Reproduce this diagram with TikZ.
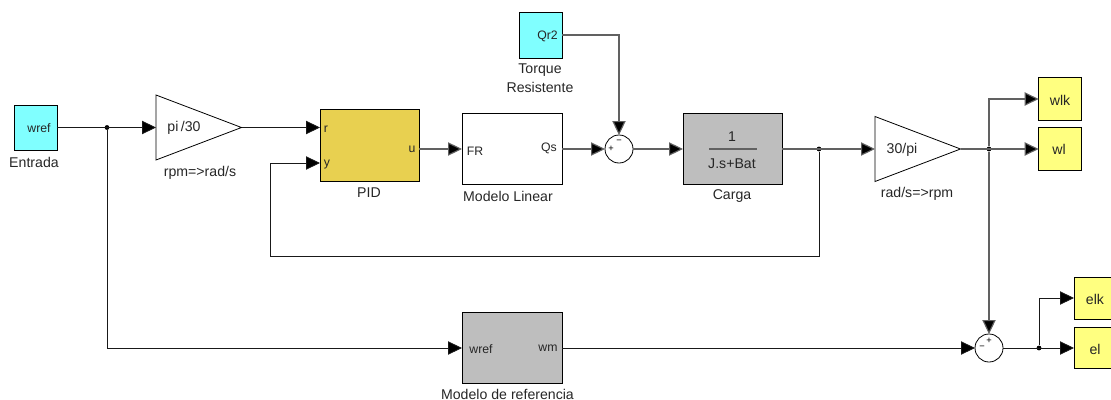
\documentclass[tikz,border=0pt]{standalone}
\usepackage{fontspec}
\setmainfont{Liberation Sans}
\usetikzlibrary{arrows.meta,shapes.geometric}
\definecolor{cyanblk}{HTML}{80FFFF}
\definecolor{yelblk}{HTML}{FFFF80}
\definecolor{goldblk}{HTML}{E8D050}
\definecolor{greyblk}{HTML}{BEBEBE}
\tikzset{
  x=0.75pt,y=-0.75pt,
  blk/.style={draw=black,line width=0.6pt,inner sep=0,outer sep=0},
  txt/.style={inner sep=0,outer sep=0,font=\fontsize{9.2pt}{14.25pt}\selectfont,text=black!85,align=center},
  lab/.style={inner sep=0,outer sep=0,font=\fontsize{10.6pt}{14.25pt}\selectfont,text=black!85,align=center},
  small/.style={inner sep=0,outer sep=0,font=\fontsize{7pt}{8pt}\selectfont},
  tri/.style={draw=black,line width=0.6pt,shape=isosceles triangle,isosceles triangle stretches,inner sep=0,outer sep=0,minimum width=65*0.75pt,minimum height=85.5*0.75pt,anchor=lower side},
  sumb/.style={draw=black,line width=0.6pt,circle,fill=white,inner sep=0,outer sep=0,minimum size=21pt},
  wire/.style={line width=0.6pt,draw=black!90},
  gwire/.style={line width=0.85pt,draw=black!62},
  head/.style={-{Triangle[length=10.5pt,width=10pt,fill=black]}},
  dot/.style={circle,fill=black,inner sep=0,minimum size=3.6pt},
}
\begin{document}
\begin{tikzpicture}
\clip (0,0) rectangle (1111,400);
\useasboundingbox (0,0) rectangle (1111,400);
% blocks
\node[blk,fill=cyanblk,minimum width=32.25pt,minimum height=33.75pt] (entrada) at (35.5,127.5) {};
\node[blk,fill=cyanblk,minimum width=32.25pt,minimum height=34.5pt] (qr) at (540.5,35) {};
\node[tri] (g1) at (156,127.5) {};
\node[blk,fill=goldblk,minimum width=74.25pt,minimum height=54pt] (pid) at (369.5,145) {};
\node[blk,fill=white,minimum width=75pt,minimum height=53.25pt] (lin) at (512,148.5) {};
\node[sumb] (s1) at (619,149) {};
\node[blk,fill=greyblk,minimum width=74.25pt,minimum height=53.25pt] (carga) at (732.5,148.5) {};
\node[tri] (g2) at (875,149) {};
\node[blk,fill=yelblk,minimum width=32pt,minimum height=32pt] (wlk) at (1060,99) {};
\node[blk,fill=yelblk,minimum width=32pt,minimum height=32pt] (wl) at (1060,149) {};
\node[blk,fill=greyblk,minimum width=75pt,minimum height=53pt] (ref) at (512,348) {};
\node[sumb] (s2) at (989,348) {};
\node[blk,fill=yelblk,minimum width=31.5pt,minimum height=31.5pt] (elk) at (1095,298) {};
\node[blk,fill=yelblk,minimum width=31.5pt,minimum height=30.5pt] (el) at (1095,348) {};
% junctions and ports
\node[dot] (j1) at (107,127.5) {};
\node[dot] (j2) at (819,149) {};
\node[dot] (j3) at (989,149) {};
\node[dot] (j4) at (1039,348) {};
\coordinate (pidr) at (320,127.5);
\coordinate (pidy) at (320,163);
\coordinate (fb) at (270,256);
\coordinate (qrout) at (562,35);
\coordinate (pidu) at (419,149);
\coordinate (linfr) at (462,149);
% wires
\draw[wire,head] (entrada.east |- j1) -- (g1.lower side);
\draw[wire,head] (g1.apex) -- (pidr);
\draw[wire,head] (j1) |- (ref.west);
\draw[gwire,head] (pidu) -- (linfr);
\draw[gwire,head] (lin.east |- s1) -- (s1);
\draw[gwire,head] (qrout) -| (s1);
\draw[gwire,head] (s1) -- (carga.west |- s1);
\draw[gwire,head] (carga.east |- g2.lower side) -- (g2.lower side);
\draw[wire,head] (j2) |- (fb) |- (pidy);
\draw[gwire,head] (g2.apex) -- (wl);
\draw[gwire,head] (j3) |- (wlk);
\draw[gwire,head] (j3) -- (s2);
\draw[wire,head] (ref.east) -- (s2);
\draw[wire,head] (s2) -- (el);
\draw[wire,head] (j4) |- (elk);
% texts inside
\node[txt] (t1) at (39,128) {wref};
\node[lab] (t2) at (184,128) {pi\,/30};
\node[txt] (t3) at (326,129) {r};
\node[txt] (t4) at (327,165) {y};
\node[txt] (t5) at (412,149) {u};
\node[txt] (t6) at (475,151) {FR};
\node[txt] (t7) at (549,148) {Qs};
\node[txt] (t8) at (547.5,36) {Qr2};
\node[lab] (t9) at (732,137) {1};
\node[lab] (t10) at (732,164) {J.s+Bat};
\coordinate (fl) at (709,149);
\coordinate (fr) at (757,149);
\draw[gwire] (fl) -- (fr);
\node[lab] (t11) at (902,150) {30/pi};
\node[lab] (t12) at (1060,100) {wlk};
\node[lab] (t13) at (1059,149) {wl};
\node[lab] (t14) at (1095,299) {elk};
\node[lab] (t15) at (1095,349) {el};
\node[txt] (t16) at (481,349) {wref};
\node[txt] (t17) at (548,348) {wm};
\node[small] (p1) at (611,149) {+};
\node[small] (m1) at (619,142) {−};
\node[small] (p2) at (989,341) {+};
\node[small] (m2) at (982,348) {−};
% labels
\node[lab] (l1) at (34,162) {Entrada};
\node[lab] (l2) at (200,173) {rpm=>rad/s};
\node[lab] (l3) at (369,193) {PID};
\node[lab] (l4) at (540,78.5) {Torque\\Resistente};
\node[lab] (l5) at (508,196) {Modelo Linear};
\node[lab] (l6) at (732,196) {Carga};
\node[lab] (l7) at (917,194) {rad/s=>rpm};
\node[lab] (l8) at (507.5,394) {Modelo de referencia};
\end{tikzpicture}
\end{document}
